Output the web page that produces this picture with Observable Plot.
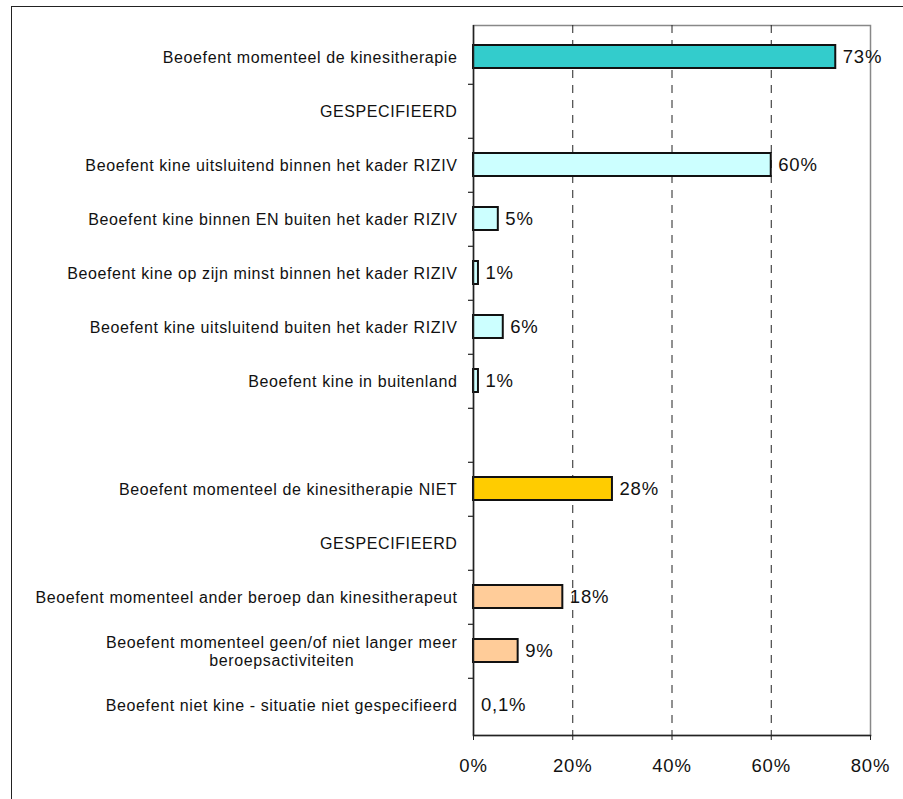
<!DOCTYPE html>
<html>
<head>
<meta charset="utf-8">
<script src="https://cdn.jsdelivr.net/npm/d3@7"></script>
<script src="https://cdn.jsdelivr.net/npm/@observablehq/plot@0.6"></script>
<style>
  html, body { margin: 0; padding: 0; background: #fff; }
  #wrap { position: relative; width: 903px; height: 799px; overflow: hidden; }
  #frame { position: absolute; left: 11px; top: 6px; width: 1000px; height: 1000px;
           border-top: 1.5px solid #222; border-left: 1.5px solid #222; box-sizing: border-box; pointer-events: none; }
  #chart { position: absolute; left: 0; top: 0; }
  g[aria-label="y-axis tick label"] text { letter-spacing: 0.6px; }
  g[aria-label="x-axis tick label"] text { letter-spacing: 0.8px; }
  g[aria-label="text"] text { letter-spacing: 0.8px; }
</style>
</head>
<body>
<div id="wrap"><div id="chart"></div><div id="frame"></div></div>
<script>
// Categories (top to bottom)
const categories = [
  "Beoefent momenteel de kinesitherapie",
  "GESPECIFIEERD",
  "Beoefent kine uitsluitend binnen het kader RIZIV",
  "Beoefent kine binnen EN buiten het kader RIZIV",
  "Beoefent kine op zijn minst binnen het kader RIZIV",
  "Beoefent kine uitsluitend buiten het kader RIZIV",
  "Beoefent kine in buitenland",
  "",
  "Beoefent momenteel de kinesitherapie NIET",
  "GESPECIFIEERD",
  "Beoefent momenteel ander beroep dan kinesitherapeut",
  "Beoefent momenteel geen/of niet langer meer\nberoepsactiviteiten",
  "Beoefent niet kine - situatie niet gespecifieerd"
];
// Percent values (null = no bar)
const values = [73, null, 60, 5, 1, 6, 1, null, 28, null, 18, 9, 0.1];
// Fill per row
const colors = ["#33CCCC", null, "#CCFFFF", "#CCFFFF", "#CCFFFF", "#CCFFFF", "#CCFFFF", null,
                "#FFCC00", null, "#FFCC99", "#FFCC99", "#FFCC99"];
// X tick values
const xTicks = [0, 20, 40, 60, 80];

const idx = categories.map((_, i) => i);
const rows = idx.filter(i => values[i] != null).map(i => ({i, v: values[i], c: colors[i]}));
const fmt = v => (v < 1 ? String(v).replace(".", ",") : String(v)) + "%";
const boundaries = idx.slice(0, -1);

const W = 903, H = 799;
const plot = Plot.plot({
  width: W,
  height: H,
  marginLeft: 473,
  marginRight: 33,
  marginTop: 25,
  marginBottom: 64,
  style: { fontFamily: "'Liberation Sans', Arial, sans-serif", background: "transparent", overflow: "visible" },
  x: { domain: [0, 80], ticks: xTicks, label: null },
  y: { domain: idx, paddingInner: 0.58, paddingOuter: 0.29, label: null },
  marks: [
    Plot.frame({ stroke: "#888", strokeWidth: 1.5 }),
    Plot.ruleX([20, 40, 60], { stroke: "#222", strokeDasharray: "8,7", strokeWidth: 1 }),
    Plot.barX(rows.filter(d => d.v >= 0.5), { y: "i", x: "v", fill: "c", stroke: "#111", strokeWidth: 2 }),
    Plot.text(rows, { y: "i", x: "v", text: d => fmt(d.v), dx: 7, textAnchor: "start", fontSize: 18.5, fill: "#111" }),
    Plot.ruleX([0], { stroke: "#222", strokeWidth: 1.5 }),
    Plot.ruleY(boundaries, { y: d => d, x1: 0, x2: 1, dx: -5, dy: 27.3, stroke: "#222", strokeWidth: 1.2 }),
    Plot.frame({ anchor: "bottom", stroke: "#222", strokeWidth: 1.5 }),
    Plot.axisX({ ticks: xTicks, tickFormat: d => d + "%", tickSize: 5, tickPadding: 18, fontSize: 18.5, stroke: "#222", fill: "#111" }),
    Plot.axisY({ tickFormat: i => categories[i], tickSize: 0, tickPadding: 16, fontSize: 16, lineHeight: 1.15, fill: "#111" })
  ]
});
document.getElementById("chart").appendChild(plot);

// Center multi-line label lines within their block, block right-aligned to the others
plot.querySelectorAll('g[aria-label="y-axis tick label"] text').forEach(t => {
  const spans = t.querySelectorAll("tspan");
  if (spans.length > 1) {
    t.setAttribute("text-anchor", "middle");
    spans.forEach(s => s.setAttribute("x", 0));
    const b = t.getBBox();
    const shift = -(b.x + b.width);
    spans.forEach(s => s.setAttribute("x", shift));
  }
});
</script>
</body>
</html>
